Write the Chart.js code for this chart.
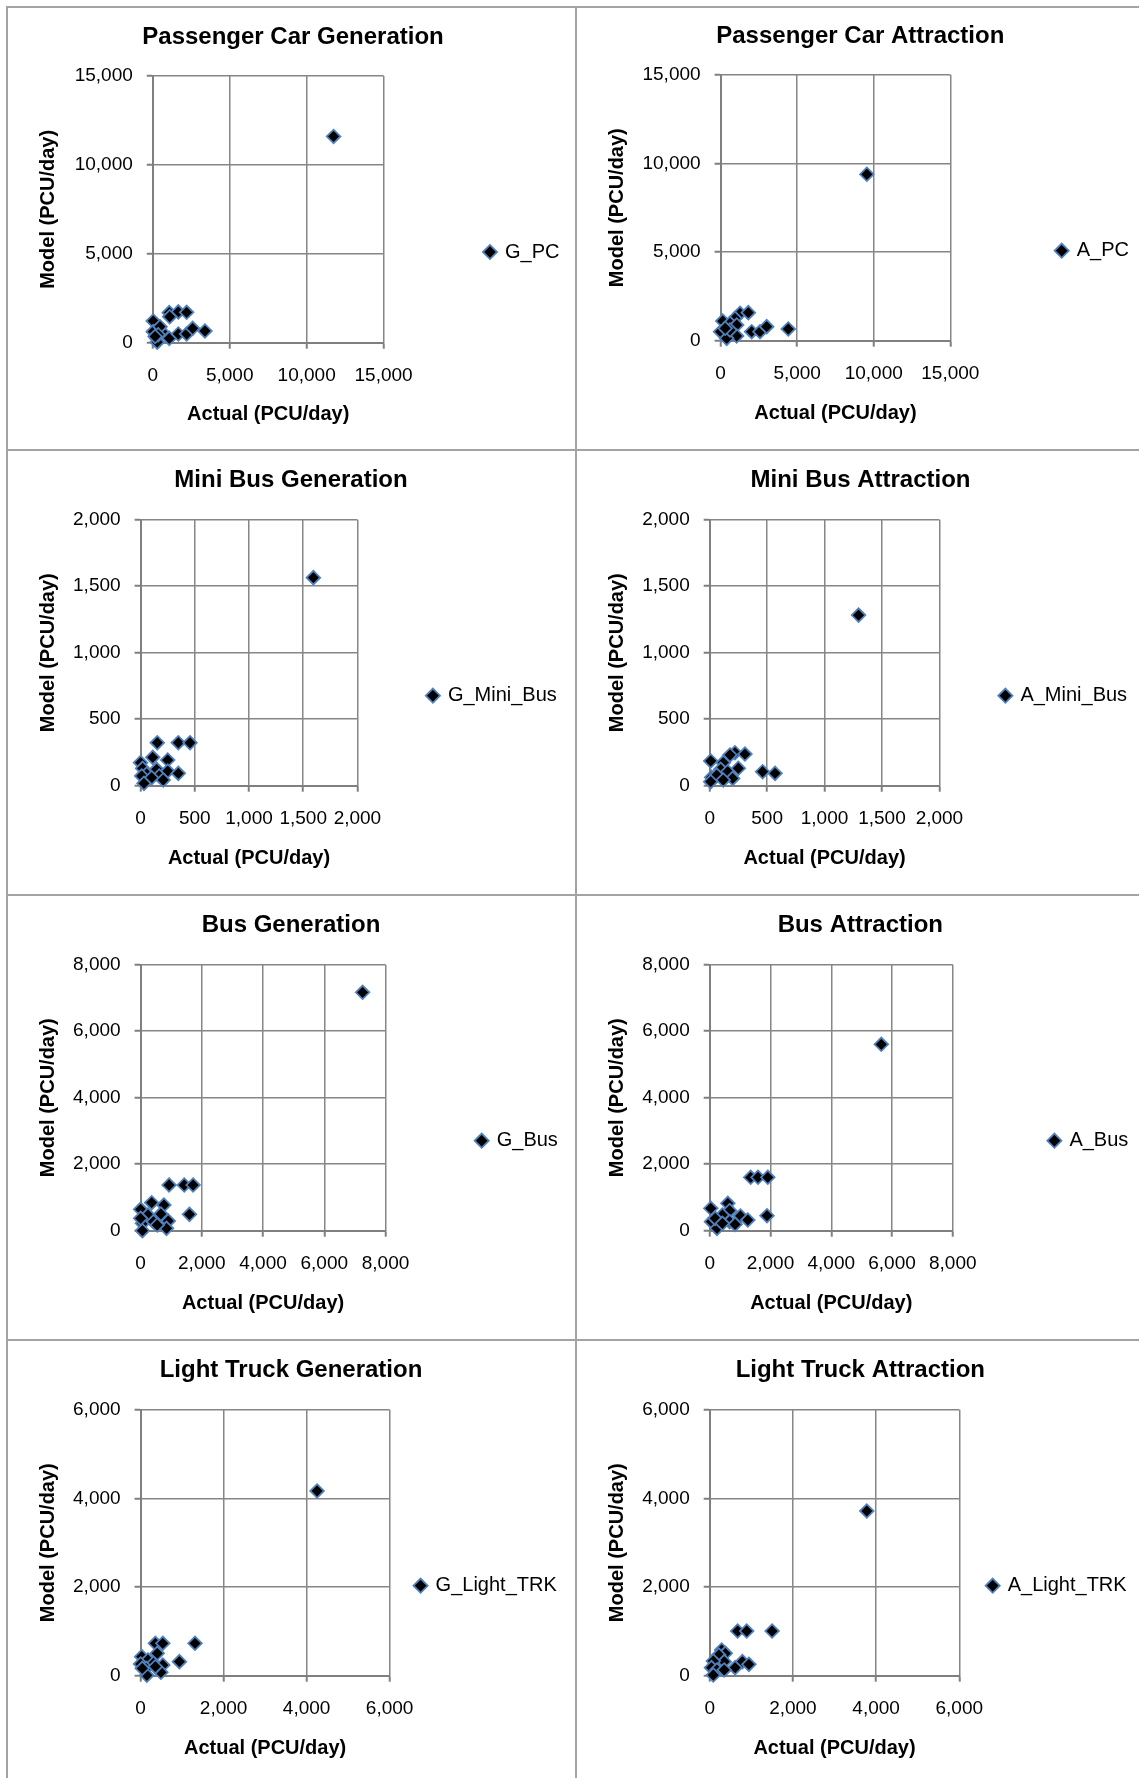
<!DOCTYPE html>
<html>
<head>
<meta charset="utf-8">
<script src="https://cdn.jsdelivr.net/npm/chart.js@4.4.1/dist/chart.umd.min.js"></script>
<style>
    html, body { margin: 0; padding: 0; background: #ffffff; }
    body { width: 1139px; height: 1778px; position: relative; overflow: hidden; }
    .panel { position: absolute; box-sizing: border-box; border: 2px solid #a3a3a3; background: #ffffff; }
    .panel canvas { position: absolute; left: 0; top: 0; }
</style>
</head>
<body>
<script>
// actual vs model trip ends, PCU/day
const pcGenActual = [30, 1070, 1660, 2200, 1100, 580, 30, 250, 1070, 1660, 2200, 2590, 3390, 290, 470, 350, 150, 11750];
const pcGenModel = [1220, 1690, 1730, 1710, 1460, 620, 620, 245, 245, 490, 490, 810, 660, 30, 900, 450, 350, 11600];

const pcAttrActual = [137, 1270, 1810, 940, 614, 1050, 176, 0, 2030, 2573, 3010, 4420, 1050, 398, 614, 300, 9550];
const pcAttrModel = [1110, 1545, 1580, 1260, 980, 885, 417, 507, 507, 507, 790, 660, 265, 135, 603, 700, 9385];

const mbGenActual = [154, 348, 456, 112, 250, 0, 19, 148, 250, 348, 56, 172, 10, 209, 102, 31, 1594];
const mbGenModel = [323, 323, 323, 213, 193, 173, 130, 123, 110, 93, 88, 73, 73, 43, 60, 18, 1564];

const mbAttrActual = [220, 307, 177, 9, 118, 96, 249, 157, 461, 569, 200, 17, 61, 9, 118, 1296];
const mbAttrModel = [248, 238, 231, 186, 173, 123, 131, 105, 105, 93, 55, 63, 80, 30, 43, 1283];

const busGenActual = [930, 1425, 1715, 1595, 362, 761, 0, 242, 664, 905, 846, 59, 59, 422, 0, 543, 7252];
const busGenModel = [1374, 1374, 1374, 493, 842, 773, 643, 472, 502, 292, 72, 222, 0, 271, 372, 171, 7170];

const busAttrActual = [1349, 1589, 1912, 1886, 36, 596, 658, 418, 1013, 1254, 658, 836, 59, 240, 180, 418, 5647];
const busAttrModel = [1606, 1606, 1606, 451, 674, 823, 602, 472, 442, 322, 271, 192, 271, 72, 372, 222, 5606];

const ltGenActual = [356, 535, 1311, 935, 400, 27, 178, 311, 535, 0, 133, 489, 150, 356, 40, 4253];
const ltGenModel = [731, 731, 731, 316, 505, 429, 354, 280, 241, 264, 167, 77, 10, 203, 167, 4167];

const ltAttrActual = [671, 889, 1500, 786, 942, 611, 288, 375, 219, 349, 87, 43, 173, 349, 87, 3776];
const ltAttrModel = [1008, 1008, 1008, 316, 257, 181, 580, 505, 467, 316, 331, 181, 129, 129, 15, 3715];

const panelTitles = [
    "Passenger Car Generation", "Passenger Car Attraction",
    "Mini Bus Generation", "Mini Bus Attraction",
    "Bus Generation", "Bus Attraction",
    "Light Truck Generation", "Light Truck Attraction",
];
const seriesNames = ["G_PC", "A_PC", "G_Mini_Bus", "A_Mini_Bus", "G_Bus", "A_Bus", "G_Light_TRK", "A_Light_TRK"];
const axisMax = [15000, 15000, 2000, 2000, 8000, 8000, 6000, 6000];
const axisStep = [5000, 5000, 500, 500, 2000, 2000, 2000, 2000];
const xAxisTitle = "Actual (PCU/day)";
const yAxisTitle = "Model (PCU/day)";

const series = [
    [pcGenActual, pcGenModel], [pcAttrActual, pcAttrModel],
    [mbGenActual, mbGenModel], [mbAttrActual, mbAttrModel],
    [busGenActual, busGenModel], [busAttrActual, busAttrModel],
    [ltGenActual, ltGenModel], [ltAttrActual, ltAttrModel],
];

// page layout (px), measured on the reference
const COLS = [{ left: 6, width: 571 }, { left: 575, width: 566 }];
const ROWS = [{ top: 6, height: 445 }, { top: 449, height: 447 }, { top: 894, height: 447 }, { top: 1339, height: 447 }];
// plot = [left, top, right, bottom] of the plot box, the rest are anchors of title / legend / axis titles
const frames = [
    { plot: [152.8, 76, 383.6, 342.7], titleX: 293, titleY: 37, legendX: 490, legendY: 252, yTitleX: 48, xTitleY: 414 },
    { plot: [720.6, 74.7, 950.3, 340.7], titleX: 860.3, titleY: 36, legendX: 1061.7, legendY: 250.7, yTitleX: 617, xTitleY: 413 },
    { plot: [140.6, 519.7, 357.4, 785.7], titleX: 291, titleY: 480.7, legendX: 432.9, legendY: 695.7, yTitleX: 48, xTitleY: 858.3 },
    { plot: [709.7, 519.7, 939.4, 785.7], titleX: 860.5, titleY: 480.7, legendX: 1005.4, legendY: 695.7, yTitleX: 617, xTitleY: 858.3 },
    { plot: [140.6, 964.7, 385.5, 1230.7], titleX: 291, titleY: 925.7, legendX: 481.7, legendY: 1140.7, yTitleX: 48, xTitleY: 1303.3 },
    { plot: [709.7, 964.7, 952.8, 1230.7], titleX: 860.3, titleY: 925.7, legendX: 1054.4, legendY: 1140.7, yTitleX: 617, xTitleY: 1303.3 },
    { plot: [140.6, 1409.7, 389.6, 1675.7], titleX: 291, titleY: 1370.7, legendX: 420.6, legendY: 1585.7, yTitleX: 48, xTitleY: 1748.3 },
    { plot: [709.7, 1409.7, 959.3, 1675.7], titleX: 860.3, titleY: 1370.7, legendX: 992.7, legendY: 1585.7, yTitleX: 617, xTitleY: 1748.3 },
];

const FONT = "'Liberation Sans', Arial, sans-serif";
const TITLE_SIZE = 24;
const AXIS_TITLE_SIZE = 20;
const TICK_SIZE = 19;
const LEGEND_SIZE = 20;
const TICK_LEN = 6;
const LEGEND_BOX = 10;
const GRID_COLOR = "#868686";
const AXIS_COLOR = "#7f7f7f";
const MARKER_FILL = "#000000";
const MARKER_EDGE = "#4f81bd";

Chart.defaults.font.family = FONT;
Chart.defaults.color = "#000000";

function measureText(text, size) {
    const ctx = document.createElement("canvas").getContext("2d");
    ctx.font = `${size}px ${FONT}`;
    return ctx.measureText(text).width;
}

function createPanel(i) {
    const col = COLS[i % 2];
    const row = ROWS[Math.floor(i / 2)];
    const f = frames[i];

    const div = document.createElement("div");
    div.className = "panel";
    div.style.left = col.left + "px";
    div.style.top = row.top + "px";
    div.style.width = col.width + "px";
    div.style.height = row.height + "px";
    const canvas = document.createElement("canvas");
    const W = col.width - 4;
    const H = row.height - 4;
    canvas.width = W;
    canvas.height = H;
    div.appendChild(canvas);
    document.body.appendChild(div);

    // convert page anchors into canvas-relative numbers
    const ox = col.left + 2;
    const oy = row.top + 2;
    const plotL = f.plot[0] - ox;
    const plotT = f.plot[1] - oy;
    const plotR = f.plot[2] - ox;
    const plotB = f.plot[3] - oy;

    const titleLH = TITLE_SIZE * 1.2;
    const titlePadTop = f.titleY - oy - titleLH / 2;
    const titlePadBottom = plotT - titleLH - titlePadTop;

    const axisLH = AXIS_TITLE_SIZE * 1.2;
    const xAxisHeight = H - plotB;
    const xTickPad = 33.5 - TICK_LEN - (TICK_SIZE * 1.2) / 2;
    const xTitlePad = H - (f.xTitleY - oy) - axisLH / 2;

    const itemW = LEGEND_BOX + LEGEND_SIZE / 2 + measureText(seriesNames[i], LEGEND_SIZE);
    const itemX = f.legendX - ox - LEGEND_BOX / 2;
    const padRight = W - (itemX + itemW + 10);
    const legendPad = itemX - plotR;
    const legendTitleH = 2 * (f.legendY - oy) - H;

    const padLeft = 2 * (f.titleX - ox) - W + padRight;
    const yAxisWidth = plotL - padLeft;
    const yTitlePad = f.yTitleX - ox - padLeft - axisLH / 2;

    const [actual, model] = series[i];
    const points = actual.map((x, k) => ({ x, y: model[k] }));

    const gridOpts = {
        color: GRID_COLOR,
        lineWidth: 1.5,
        tickLength: TICK_LEN,
        tickColor: AXIS_COLOR,
        tickWidth: 2,
    };

    new Chart(canvas, {
        type: "scatter",
        data: {
            datasets: [
                {
                    label: seriesNames[i],
                    data: points,
                    pointStyle: "rectRot",
                    pointRadius: 6.8,
                    pointHoverRadius: 6.8,
                    backgroundColor: MARKER_FILL,
                    borderColor: MARKER_EDGE,
                    borderWidth: 1.8,
                    clip: false,
                },
            ],
        },
        options: {
            responsive: false,
            animation: false,
            devicePixelRatio: 1,
            events: [],
            layout: { padding: { left: padLeft, right: padRight, top: 0, bottom: 0 } },
            plugins: {
                title: {
                    display: true,
                    text: panelTitles[i],
                    color: "#000000",
                    font: { size: TITLE_SIZE, weight: "bold" },
                    padding: { top: titlePadTop, bottom: titlePadBottom },
                },
                legend: {
                    position: "right",
                    align: "center",
                    maxWidth: 400,
                    title: {
                        display: true,
                        text: "",
                        font: { size: 10, lineHeight: 1 },
                        padding: { top: legendTitleH - 10, bottom: 0 },
                    },
                    labels: {
                        usePointStyle: true,
                        boxWidth: LEGEND_BOX,
                        boxHeight: LEGEND_BOX,
                        padding: legendPad,
                        color: "#000000",
                        font: { size: LEGEND_SIZE },
                    },
                },
                tooltip: { enabled: false },
            },
            scales: {
                x: {
                    type: "linear",
                    min: 0,
                    max: axisMax[i],
                    ticks: {
                        stepSize: axisStep[i],
                        autoSkip: false,
                        maxRotation: 0,
                        minRotation: 0,
                        padding: xTickPad,
                        color: "#000000",
                        font: { size: TICK_SIZE },
                    },
                    grid: gridOpts,
                    border: { color: AXIS_COLOR, width: 2 },
                    title: {
                        display: true,
                        text: xAxisTitle,
                        color: "#000000",
                        font: { size: AXIS_TITLE_SIZE, weight: "bold" },
                        padding: { top: 0, bottom: xTitlePad },
                    },
                    afterFit: (scale) => {
                        scale.height = xAxisHeight;
                    },
                },
                y: {
                    type: "linear",
                    min: 0,
                    max: axisMax[i],
                    ticks: {
                        stepSize: axisStep[i],
                        autoSkip: false,
                        padding: 14,
                        color: "#000000",
                        font: { size: TICK_SIZE },
                    },
                    grid: gridOpts,
                    border: { color: AXIS_COLOR, width: 2 },
                    title: {
                        display: true,
                        text: yAxisTitle,
                        color: "#000000",
                        font: { size: AXIS_TITLE_SIZE, weight: "bold" },
                        padding: { top: yTitlePad, bottom: 0 },
                    },
                    afterFit: (scale) => {
                        scale.width = yAxisWidth;
                    },
                },
            },
        },
    });
}

for (let i = 0; i < panelTitles.length; i++) {
    createPanel(i);
}
</script>
</body>
</html>
